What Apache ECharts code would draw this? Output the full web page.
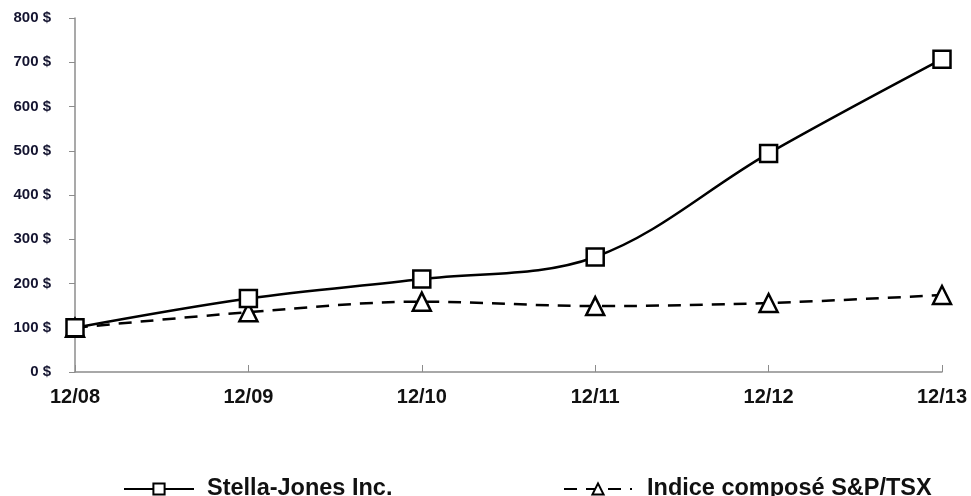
<!DOCTYPE html>
<html>
<head>
<meta charset="utf-8">
<script src="https://cdn.jsdelivr.net/npm/echarts@6/dist/echarts.min.js"></script>
<style>html,body{margin:0;padding:0;background:#fff;}#c{width:971px;height:496px;}</style>
</head>
<body>
<div id="c"></div>
<script>
const categories = ['12/08', '12/09', '12/10', '12/11', '12/12', '12/13'];
const stellaJones = [100, 166, 210, 260, 494, 707];
const spTsx = [100, 135, 159, 149, 156, 174];
const seriesNames = ['Stella-Jones Inc.', 'Indice composé S&P/TSX'];

const chart = echarts.init(document.getElementById('c'));
chart.setOption({
  animation: false,
  backgroundColor: '#fff',
  grid: { left: 75, right: 29, top: 18, bottom: 124 },
  xAxis: {
    type: 'category',
    data: categories,
    boundaryGap: false,
    axisLine: { lineStyle: { color: '#8c8c8c', width: 1.5 } },
    axisTick: { inside: true, length: 7, lineStyle: { color: '#8c8c8c' } },
    axisLabel: { color: '#111', fontFamily: 'Liberation Sans, Arial', fontWeight: 'bold', fontSize: 20, margin: 15, showMaxLabel: true, showMinLabel: true }
  },
  yAxis: {
    type: 'value',
    min: 0, max: 800, interval: 100,
    axisLine: { show: true, lineStyle: { color: '#8c8c8c', width: 1.5 } },
    axisTick: { show: true, length: 6, lineStyle: { color: '#8c8c8c' } },
    splitLine: { show: false },
    axisLabel: { color: '#141430', fontFamily: 'Liberation Sans, Arial', fontWeight: 'bold', fontSize: 15, margin: 24, formatter: '{value} $' }
  },
  legend: [
    { data: [seriesNames[0]], left: 118, top: 472, itemWidth: 70, itemHeight: 14, itemGap: 10,
      textStyle: { color: '#111', fontFamily: 'Liberation Sans, Arial', fontWeight: 'bold', fontSize: 23.5, padding: [0, 0, 0, 8] } },
    { data: [seriesNames[1]], left: 558, top: 472, itemWidth: 68, itemHeight: 14, itemGap: 10,
      textStyle: { color: '#111', fontFamily: 'Liberation Sans, Arial', fontWeight: 'bold', fontSize: 23.5, padding: [0, 0, 0, 10] } }
  ],
  series: [
    {
      name: seriesNames[0], type: 'line', data: stellaJones, smooth: 0.35,
      symbol: 'rect', symbolSize: 17, showAllSymbol: true,
      itemStyle: { color: '#fff', borderColor: '#000', borderWidth: 2.5 },
      lineStyle: { color: '#000', width: 2.5 },
      z: 3
    },
    {
      name: seriesNames[1], type: 'line', data: spTsx, smooth: 0.35,
      symbol: 'triangle', symbolSize: 18, showAllSymbol: true,
      itemStyle: { color: '#fff', borderColor: '#000', borderWidth: 2.5 },
      lineStyle: { color: '#000', width: 2.5, type: [13, 9] },
      z: 2
    }
  ]
});
</script>
</body>
</html>
